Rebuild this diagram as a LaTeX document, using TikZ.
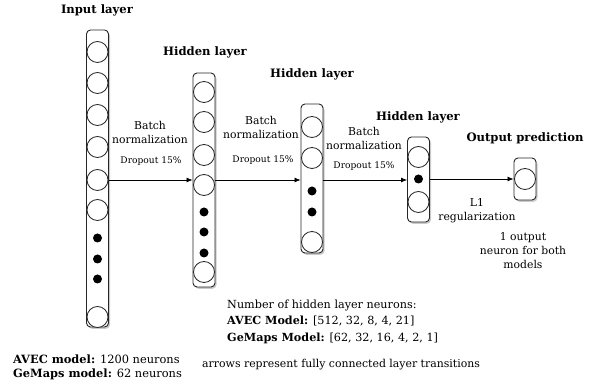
\documentclass[tikz,border=0pt]{standalone}
\usepackage{fontspec}
\setmainfont{DejaVu Serif}
\usetikzlibrary{shadows,arrows.meta}
\tikzset{
  layerbox/.style={draw=black!85, line width=0.9pt, rounded corners=4pt, fill=white, minimum width=22pt, inner sep=0pt,
    drop shadow={shadow xshift=1.5pt, shadow yshift=-1.8pt, opacity=0.35, fill=black!60}},
  neuron/.style={circle, draw=black!85, line width=0.8pt, fill=white, minimum size=21pt, inner sep=0pt},
  dotn/.style={circle, fill=black, minimum size=9pt, inner sep=0pt},
  conn/.style={-{Latex[length=6pt,width=5pt]}, line width=0.7pt},
  head/.style={font=\bfseries\fontsize{11.6}{13}\selectfont},
  lbl/.style={font=\fontsize{10.8}{14}\selectfont, align=center, inner sep=0pt},
  drop/.style={font=\fontsize{9.1}{11}\selectfont, inner sep=0pt},
  note/.style={font=\fontsize{11}{14}\selectfont, align=left, inner sep=0pt, anchor=west}
}
\begin{document}
\begin{tikzpicture}[x=1pt,y=-1pt]
\useasboundingbox (0,0) rectangle (595,387);
% layers
\node[layerbox, minimum height=297pt] (in) at (97.5,178.5) {};
\node[layerbox, minimum height=214pt] (h1) at (204,180) {};
\node[layerbox, minimum height=149pt] (h2) at (312,178.5) {};
\node[layerbox, minimum height=85pt] (h3) at (418.5,179.5) {};
\node[layerbox, minimum height=42pt] (out) at (525,179) {};
% input neurons
\foreach \y/\n in {52/1,83/2,115/3,147/4,180/5,210/6,317/7}
  \node[neuron] (i\n) at (97.5,\y) {};
\foreach \y/\n in {238/1,259/2,279/3}
  \node[dotn] (id\n) at (97.5,\y) {};
% hidden 1
\foreach \y/\n in {92/1,122/2,155/3,185/4,272/5}
  \node[neuron] (a\n) at (204,\y) {};
\foreach \y/\n in {212/1,232/2,253/3}
  \node[dotn] (ad\n) at (204,\y) {};
% hidden 2
\foreach \y/\n in {127/1,158/2,242/3}
  \node[neuron] (b\n) at (312,\y) {};
\foreach \y/\n in {191/1,212/2}
  \node[dotn] (bd\n) at (312,\y) {};
% hidden 3
\node[neuron] (c1) at (418.5,157) {};
\node[dotn] (cd1) at (418.5,179) {};
\node[neuron] (c2) at (418.5,202) {};
% output
\node[neuron] (o1) at (525,179) {};
% arrows
\coordinate (ay) at (0,180);
\draw[conn] (ay -| in.east) -- (ay -| h1.west);
\draw[conn] (ay -| h1.east) -- (ay -| h2.west);
\draw[conn] (ay -| h2.east) -- (ay -| h3.west);
\draw[conn] (cd1 -| h3.east) -- (cd1 -| out.west);
% headings
\node[head] (t0) at (97,10) {Input layer};
\node[head] (t1) at (205,52) {Hidden layer};
\node[head] (t2) at (312,74) {Hidden layer};
\node[head] (t3) at (418,117) {Hidden layer};
\node[head] (t4) at (525,138) {Output prediction};
% transition labels
\node[lbl] (bn1) at (150,132) {Batch\\normalization};
\node[drop] (dp1) at (151,161) {Dropout 15\%};
\node[lbl] (bn2) at (261,127) {Batch\\normalization};
\node[drop] (dp2) at (263,160) {Dropout 15\%};
\node[lbl] (bn3) at (364,138) {Batch\\normalization};
\node[drop] (dp3) at (364,166) {Dropout 15\%};
\node[lbl] (l1) at (477,211) {L1\\regularization};
\node[lbl] (on) at (523,251) {1 output\\neuron for both\\models};
% notes
\node[note, font=\fontsize{11.2}{16.5}\selectfont] (nh) at (227,321.5) {Number of hidden layer neurons:\\\textbf{AVEC Model:} [512, 32, 8, 4, 21]\\\textbf{GeMaps Model:} [62, 32, 16, 4, 2, 1]};
\node[note, font=\fontsize{10.9}{14}\selectfont] (ar) at (202,365) {arrows represent fully connected layer transitions};
\node[note, font=\fontsize{11.4}{14}\selectfont] (md) at (13,367) {\textbf{AVEC model:} 1200 neurons\\\textbf{GeMaps model:} 62 neurons};
\end{tikzpicture}
\end{document}
